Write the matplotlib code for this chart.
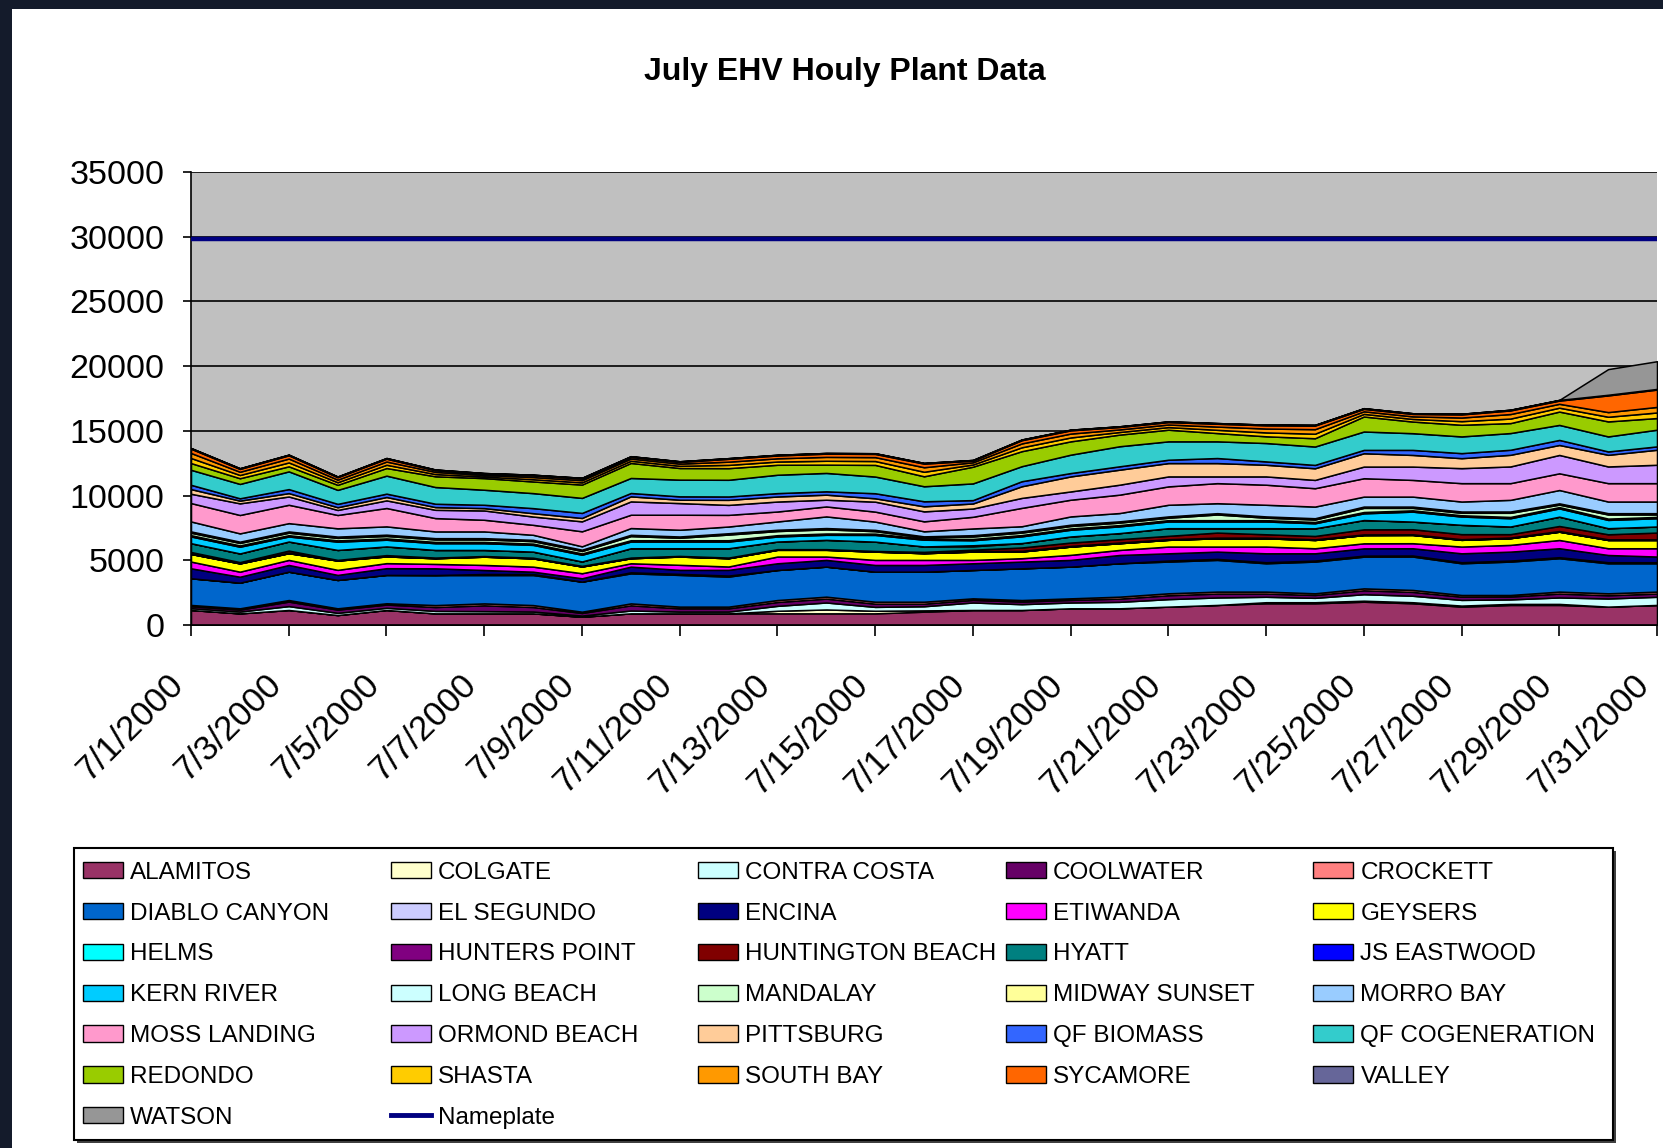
import matplotlib
matplotlib.use("Agg")
import matplotlib.pyplot as plt
from matplotlib.patches import Patch, Rectangle
from matplotlib.lines import Line2D
from matplotlib.transforms import ScaledTranslation

# ---------------- data ----------------
days = list(range(1, 32))
tick_days = days[::2]
tick_labels = [f"7/{d}/2000" for d in tick_days]

TITLE = "July EHV Houly Plant Data"
NAMEPLATE = 29800

ALAMITOS = [1160, 900, 1160, 770, 1160, 900, 900, 900, 640, 900, 900, 900, 900, 900, 900, 1030,
            1160, 1160, 1290, 1290, 1420, 1550, 1680, 1680, 1800, 1680, 1420, 1550, 1550, 1420, 1550]
COLGATE = [0, 0, 0, 0, 0, 0, 0, 0, 0, 0, 0, 0, 200, 300, 200, 100,
           0, 0, 0, 0, 0, 0, 80, 80, 80, 80, 80, 80, 80, 0, 0]
CONTRA_COSTA = [140, 140, 300, 170, 170, 190, 170, 140, 90, 220, 140, 140, 380, 540, 300, 320,
                580, 450, 450, 500, 580, 580, 420, 340, 500, 500, 440, 350, 500, 630, 630]
COOLWATER = [150, 150, 350, 250, 250, 300, 450, 350, 200, 400, 250, 250, 300, 300, 250, 200,
             200, 200, 200, 250, 300, 300, 250, 220, 300, 300, 250, 220, 300, 250, 250]
CROCKETT = [100, 100, 120, 100, 100, 150, 150, 150, 100, 150, 130, 130, 150, 150, 150, 150,
            120, 120, 120, 150, 150, 150, 150, 130, 150, 150, 130, 120, 150, 150, 150]
DIABLO_CANYON = [2060, 1980, 2190, 2190, 2190, 2320, 2190, 2320, 2320, 2320, 2450, 2320, 2320, 2320, 2320, 2320,
                 2190, 2450, 2450, 2580, 2450, 2450, 2190, 2450, 2450, 2580, 2450, 2580, 2580, 2320, 2190]
EL_SEGUNDO = [0, 0, 0, 0, 0, 0, 80, 80, 0, 80, 80, 80, 0, 0, 0, 0,
              0, 0, 0, 0, 80, 80, 80, 80, 80, 80, 80, 80, 80, 80, 80]
ENCINA = [770, 460, 520, 390, 520, 520, 310, 180, 260, 440, 310, 440, 520, 520, 520, 520,
          520, 520, 520, 640, 560, 560, 690, 560, 560, 560, 690, 690, 690, 560, 440]
ETIWANDA = [520, 390, 390, 390, 390, 340, 390, 390, 390, 260, 390, 260, 520, 260, 390, 390,
            260, 260, 390, 390, 520, 390, 520, 390, 390, 390, 520, 520, 640, 520, 640]
GEYSERS = [590, 640, 520, 720, 520, 440, 640, 640, 520, 390, 640, 640, 520, 520, 640, 520,
           640, 520, 640, 520, 520, 640, 640, 640, 640, 640, 520, 520, 640, 640, 640]
HELMS = [0, 0, 0, 0, 0, 0, 0, 0, 0, 0, 0, 0, 0, 0, 0, 0,
         0, 0, 0, 0, 0, 0, 0, 0, 0, 0, 0, 0, 0, 0, 0]
HUNTERS_POINT = [50, 50, 50, 50, 50, 50, 50, 50, 50, 50, 50, 50, 50, 50, 50, 50,
                 50, 50, 50, 50, 50, 50, 50, 50, 50, 50, 50, 50, 50, 50, 50]
HUNTINGTON_BEACH = [100, 50, 150, 0, 50, 0, 0, 0, 0, 0, 0, 0, 0, 0, 0, 50,
                    100, 260, 260, 260, 260, 390, 260, 260, 390, 390, 390, 260, 390, 390, 520]
HYATT = [680, 670, 700, 770, 670, 590, 470, 470, 340, 720, 590, 720, 590, 720, 720, 420,
         260, 340, 470, 470, 590, 340, 470, 590, 720, 590, 720, 590, 720, 470, 470]
JS_EASTWOOD = [0, 0, 0, 0, 0, 0, 0, 0, 0, 0, 0, 0, 0, 0, 0, 0,
               80, 0, 0, 0, 0, 0, 0, 0, 0, 0, 0, 0, 0, 0, 0]
KERN_RIVER = [520, 520, 390, 640, 520, 520, 520, 520, 520, 520, 520, 520, 390, 390, 520, 520,
              390, 520, 520, 520, 520, 520, 520, 390, 520, 770, 640, 640, 640, 640, 640]
LONG_BEACH = [100, 100, 100, 100, 100, 100, 100, 100, 100, 100, 100, 100, 100, 100, 100, 80,
              100, 100, 100, 100, 100, 100, 100, 100, 100, 100, 100, 100, 100, 100, 100]
MANDALAY = [190, 190, 190, 190, 190, 190, 190, 190, 190, 320, 190, 440, 320, 320, 190, 100,
            190, 190, 190, 190, 190, 440, 190, 190, 320, 190, 190, 320, 190, 320, 190]
MIDWAY_SUNSET = [100, 100, 100, 100, 100, 100, 100, 100, 100, 100, 100, 100, 100, 100, 100, 80,
                 100, 100, 100, 100, 100, 100, 100, 100, 100, 100, 100, 100, 100, 100, 100]
MORRO_BAY = [770, 640, 640, 640, 640, 520, 520, 390, 260, 520, 520, 520, 640, 900, 640, 390,
             520, 390, 640, 640, 900, 770, 900, 900, 770, 770, 770, 900, 1030, 900, 900]
MOSS_LANDING = [1420, 1420, 1420, 1030, 1420, 1030, 900, 770, 1160, 1030, 1160, 900, 770, 770, 770, 770,
                900, 1420, 1290, 1420, 1420, 1550, 1550, 1420, 1420, 1290, 1420, 1290, 1290, 1420, 1420]
ORMOND_BEACH = [720, 900, 640, 390, 590, 640, 720, 640, 770, 1030, 900, 770, 770, 520, 770, 770,
                640, 770, 640, 770, 770, 520, 640, 640, 900, 1030, 1160, 1290, 1420, 1290, 1420]
PITTSBURG = [360, 210, 260, 210, 260, 210, 180, 260, 260, 390, 260, 390, 390, 390, 260, 390,
             390, 900, 1160, 1160, 1030, 1030, 900, 900, 1030, 900, 770, 900, 770, 900, 1160]
QF_BIOMASS = [330, 180, 310, 260, 260, 260, 260, 390, 390, 260, 260, 260, 260, 260, 390, 390,
              260, 390, 260, 260, 260, 390, 260, 260, 260, 390, 390, 390, 390, 260, 260]
QF_COGENERATION = [1160, 1110, 1370, 1080, 1390, 1290, 1160, 1160, 1160, 1160, 1290, 1290, 1420, 1420, 1290, 1160,
                   1290, 1160, 1420, 1550, 1420, 1290, 1420, 1420, 1420, 1290, 1290, 1290, 1160, 1160, 1290]
REDONDO = [520, 440, 390, 390, 590, 830, 900, 900, 1030, 1160, 900, 900, 770, 640, 900, 770,
           1290, 1160, 1030, 900, 900, 640, 520, 640, 1160, 900, 900, 770, 1030, 1160, 900]
SHASTA = [390, 250, 300, 200, 250, 170, 120, 170, 170, 170, 170, 250, 250, 300, 300, 350,
          170, 300, 300, 200, 200, 250, 300, 350, 200, 200, 280, 350, 300, 360, 430]
SOUTH_BAY = [390, 250, 300, 200, 250, 170, 120, 170, 170, 170, 170, 250, 250, 300, 300, 350,
             170, 300, 300, 200, 200, 250, 300, 350, 200, 200, 280, 350, 300, 360, 430]
SYCAMORE = [330, 220, 250, 190, 220, 130, 100, 130, 130, 130, 130, 220, 220, 250, 250, 280,
            130, 250, 250, 190, 190, 220, 250, 280, 190, 190, 240, 280, 250, 1290, 1340]
VALLEY = [50, 50, 50, 50, 50, 50, 50, 50, 50, 50, 50, 50, 50, 50, 50, 50,
          50, 50, 50, 50, 50, 50, 50, 50, 50, 50, 50, 50, 50, 50, 50]
WATSON = [0, 0, 0, 0, 0, 0, 0, 0, 0, 0, 0, 0, 0, 0, 0, 0,
          0, 0, 0, 0, 0, 0, 0, 0, 0, 0, 0, 0, 0, 1980, 2140]

plants = ["ALAMITOS", "COLGATE", "CONTRA COSTA", "COOLWATER", "CROCKETT", "DIABLO CANYON",
          "EL SEGUNDO", "ENCINA", "ETIWANDA", "GEYSERS", "HELMS", "HUNTERS POINT",
          "HUNTINGTON BEACH", "HYATT", "JS EASTWOOD", "KERN RIVER", "LONG BEACH", "MANDALAY",
          "MIDWAY SUNSET", "MORRO BAY", "MOSS LANDING", "ORMOND BEACH", "PITTSBURG",
          "QF BIOMASS", "QF COGENERATION", "REDONDO", "SHASTA", "SOUTH BAY", "SYCAMORE",
          "VALLEY", "WATSON"]
series = [ALAMITOS, COLGATE, CONTRA_COSTA, COOLWATER, CROCKETT, DIABLO_CANYON, EL_SEGUNDO,
          ENCINA, ETIWANDA, GEYSERS, HELMS, HUNTERS_POINT, HUNTINGTON_BEACH, HYATT,
          JS_EASTWOOD, KERN_RIVER, LONG_BEACH, MANDALAY, MIDWAY_SUNSET, MORRO_BAY,
          MOSS_LANDING, ORMOND_BEACH, PITTSBURG, QF_BIOMASS, QF_COGENERATION, REDONDO,
          SHASTA, SOUTH_BAY, SYCAMORE, VALLEY, WATSON]
colors = ["#993366", "#FFFFCC", "#CCFFFF", "#660066", "#FF8080", "#0066CC",
          "#CCCCFF", "#000080", "#FF00FF", "#FFFF00", "#00FFFF", "#800080",
          "#800000", "#008080", "#0000FF", "#00CCFF", "#CCFFFF", "#CCFFCC",
          "#FFFF99", "#99CCFF", "#FF99CC", "#CC99FF", "#FFCC99",
          "#3366FF", "#33CCCC", "#99CC00", "#FFCC00", "#FF9900", "#FF6600",
          "#666699", "#969696"]
NAMEPLATE_COLOR = "#000080"

# ---------------- style ----------------
plt.rcParams["font.family"] = ["Liberation Sans", "DejaVu Sans"]
FS_TITLE = 23
FS_YTICK = 24.5
FS_XTICK = 25
FS_LEGEND = 17.5

W, H = 1663, 1148
fig = plt.figure(figsize=(W / 100, H / 100), dpi=100)
fig.patch.set_facecolor("#141b2b")
fig.add_artist(Rectangle((12 / W, 0), 1, 1 - 9 / H, transform=fig.transFigure,
                         facecolor="white", edgecolor="none", zorder=0))

ax = fig.add_axes([191 / W, 1 - 625 / H, (1657 - 191) / W, (625 - 172) / H])
ax.set_facecolor("#C0C0C0")
ax.stackplot(days, *series, colors=colors, edgecolor="black", linewidth=1.1)
ax.plot(days, [NAMEPLATE] * len(days), color=NAMEPLATE_COLOR, lw=3.2, zorder=3)

ax.set_xlim(1, 31)
ax.set_ylim(0, 35000)
ax.set_yticks(range(0, 35001, 5000))
ax.set_axisbelow(True)
ax.yaxis.grid(True, color="black", lw=1.2)
for s in ("top", "right"):
    ax.spines[s].set_visible(False)
for s in ("left", "bottom"):
    ax.spines[s].set_color("black")
    ax.spines[s].set_linewidth(1.2)

ax.set_xticks(tick_days)
ax.set_xticklabels(tick_labels)
ax.tick_params(axis="x", length=8, width=1.2, pad=23, labelsize=FS_XTICK)
ax.tick_params(axis="y", length=6, width=1.2, pad=13, labelsize=FS_YTICK)
off = ScaledTranslation(-1 / 100, 0, fig.dpi_scale_trans)
for lab in ax.get_xticklabels():
    lab.set_rotation(45)
    lab.set_ha("right")
    lab.set_va("top")
    lab.set_transform(lab.get_transform() + off)

fig.text(0.508, 1 - 72 / H, TITLE, ha="center", va="center",
         fontsize=FS_TITLE, fontweight="bold", color="black")

# ---------------- legend ----------------
fig.add_artist(Rectangle((77 / W, 1 - 1143 / H), (1613 - 74) / W, (1140 - 848) / H,
                         transform=fig.transFigure, facecolor="#404040", edgecolor="none", zorder=1))
fig.add_artist(Rectangle((74 / W, 1 - 1140 / H), (1613 - 74) / W, (1140 - 848) / H,
                         transform=fig.transFigure, facecolor="white", edgecolor="black",
                         lw=1.5, zorder=1.1))

em = FS_LEGEND / 0.72
handles = [Patch(facecolor=c, edgecolor="black", linewidth=1.0) for c in colors]
handles.append(Line2D([], [], color=NAMEPLATE_COLOR, lw=3.5))
labels = plants + ["Nameplate"]
ncol = 5
for c in range(ncol):
    idx = list(range(c, len(labels), ncol))
    fig.legend([handles[i] for i in idx], [labels[i] for i in idx],
               loc="upper left",
               bbox_to_anchor=((83 + c * 307.6) / W, 1 - (873 - 0.46 * em) / H),
               frameon=False, fontsize=FS_LEGEND, borderpad=0, borderaxespad=0,
               handlelength=40 / em, handleheight=16 / em, handletextpad=7 / em,
               labelspacing=41.2 / em - 0.92)

fig.savefig("out.png", dpi=100, facecolor=fig.get_facecolor())
